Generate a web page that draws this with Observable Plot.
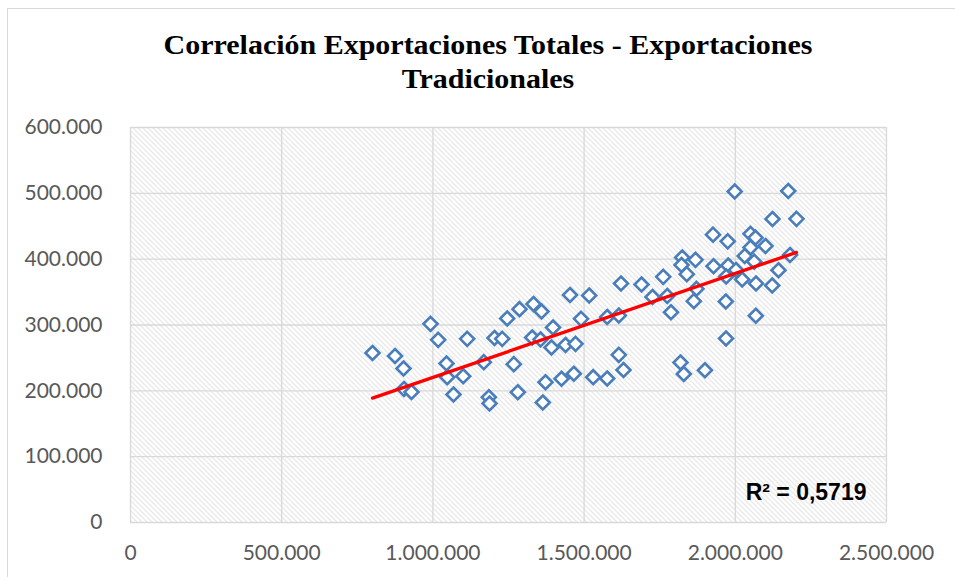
<!DOCTYPE html>
<html>
<head>
<meta charset="utf-8">
<script src="https://cdn.jsdelivr.net/npm/d3@7"></script>
<script src="https://cdn.jsdelivr.net/npm/@observablehq/plot@0.6"></script>
<style>
  html, body { margin: 0; padding: 0; background: #fff; overflow: hidden; }
  #wrap { position: relative; width: 955px; height: 577px; }
  #border { position: absolute; left: 7px; top: 8px; width: 1000px; height: 700px; border: 1px solid #d9d9d9; box-sizing: border-box; pointer-events: none; }
  #title { position: relative; box-sizing: border-box; width: 955px; height: 105px; padding-left: 21px; padding-top: 28px;
    font-family: "Liberation Serif", serif; font-weight: bold; font-size: 27px; line-height: 34px;
    text-align: center; color: #000; transform: scaleX(1.11); transform-origin: 488px 0; }
  #chart { position: relative; }
</style>
</head>
<body>
<div id="wrap">
  <div id="border"></div>
  <div id="title">Correlación Exportaciones Totales - Exportaciones<br>Tradicionales</div>
  <div id="chart"></div>
</div>
<script>
const exportacionesTotales = [800300, 874700, 902800, 904400, 929200, 992100, 1017500, 1045000, 1047300, 1068100,
  1100200, 1113400, 1168300, 1184900, 1187200, 1203700, 1229200, 1245700, 1267500, 1280800,
  1286400, 1332700, 1328400, 1359100, 1355800, 1363400, 1372400, 1392200, 1397200, 1425300,
  1438500, 1453400, 1466000, 1471600, 1489800, 1516900, 1530100, 1576400, 1576400, 1614800,
  1614800, 1630300, 1622000, 1689800, 1726200, 1761600, 1774800, 1787400, 1818800, 1829700,
  1824400, 1822100, 1868400, 1839600, 1927900, 1976500, 1969900, 2002300, 2022800, 2068500,
  2122000, 2142900, 2180900, 1871700, 1862800, 1968600, 2067800, 1969300, 1899500, 1998000,
  2175000, 2123000, 2202400, 1926300, 1974900, 2050300, 2066800, 2099900, 2050300, 2031100, 2062500];
const exportacionesTradicionales = [257500, 252900, 233900, 202800, 198200, 301800, 277500, 241500, 220700, 194400,
  222200, 279000, 243500, 190300, 180800, 280300, 279000, 309900, 240500, 197900,
  324000, 331900, 281000, 320500, 278000, 182300, 213100, 265800, 296200, 218300,
  269600, 345600, 225900, 271400, 309400, 344800, 220700, 218700, 312200, 314400,
  254700, 231600, 363000, 361500, 342500, 373200, 344100, 319400, 243000, 225600,
  402500, 391100, 399000, 377200, 389300, 390400, 373700, 383500, 369100, 363000,
  360000, 383200, 406300, 355000, 336200, 335700, 314000, 279500, 231300, 502800,
  503500, 461000, 461300, 437200, 427100, 438500, 432600, 420000, 417700, 404800, 396200];
const xTicks = [0, 500000, 1000000, 1500000, 2000000, 2500000];
const yTicks = [0, 100000, 200000, 300000, 400000, 500000, 600000];
const r2Label = ["R² = 0,5719"];

const data = exportacionesTotales.map((x, i) => ({x, y: exportacionesTradicionales[i]}));
const loc = d3.formatLocale({decimal: ",", thousands: ".", grouping: [3], currency: ["", ""]});
const fmt = loc.format(",");
const axisFont = "Lato, 'Liberation Sans', sans-serif";

const plot = Plot.plot({
  width: 955,
  height: 472,
  marginTop: 22,
  marginBottom: 55,
  marginLeft: 130,
  marginRight: 69,
  style: {fontFamily: axisFont, fontSize: "21px", color: "#595959", background: "transparent", overflow: "visible"},
  x: {domain: [0, 2500000]},
  y: {domain: [0, 600000]},
  marks: [
    Plot.frame({fill: "url(#hatch)", stroke: null}),
    Plot.gridX(xTicks, {stroke: "#d9d9d9", strokeOpacity: 1, strokeWidth: 1.3}),
    Plot.gridY(yTicks, {stroke: "#d9d9d9", strokeOpacity: 1, strokeWidth: 1.3}),
    Plot.axisX(xTicks, {tickSize: 0, tickPadding: 23, tickFormat: fmt, label: null, fill: "#595959"}),
    Plot.axisY(yTicks, {tickSize: 0, tickPadding: 28, tickFormat: fmt, label: null, fill: "#595959"}),
    Plot.dot(data, {x: "x", y: "y", symbol: "diamond2", r: 6.3, stroke: "#4a7ebb", strokeWidth: 2.6, fill: "white"}),
    Plot.linearRegressionY(data, {x: "x", y: "y", stroke: "#ff0000", strokeWidth: 3.3, ci: 0}),
    Plot.text(r2Label, {frameAnchor: "bottom-right", textAnchor: "end", lineAnchor: "middle", dx: -20, dy: -30,
      fontWeight: "bold", fontSize: 23, fill: "#000", fontFamily: "'Liberation Sans', sans-serif"})
  ]
});

const ns = "http://www.w3.org/2000/svg";
const defs = document.createElementNS(ns, "defs");
defs.innerHTML = '<pattern id="hatch" patternUnits="userSpaceOnUse" width="5" height="5">' +
  '<rect width="5" height="5" fill="#ffffff"/>' +
  '<path d="M-1,-1 L6,6 M-1,4 L1,6 M4,-1 L6,1" stroke="#d4d4d4" stroke-width="1"/></pattern>';
plot.insertBefore(defs, plot.firstChild);
document.getElementById("chart").appendChild(plot);
</script>
</body>
</html>
